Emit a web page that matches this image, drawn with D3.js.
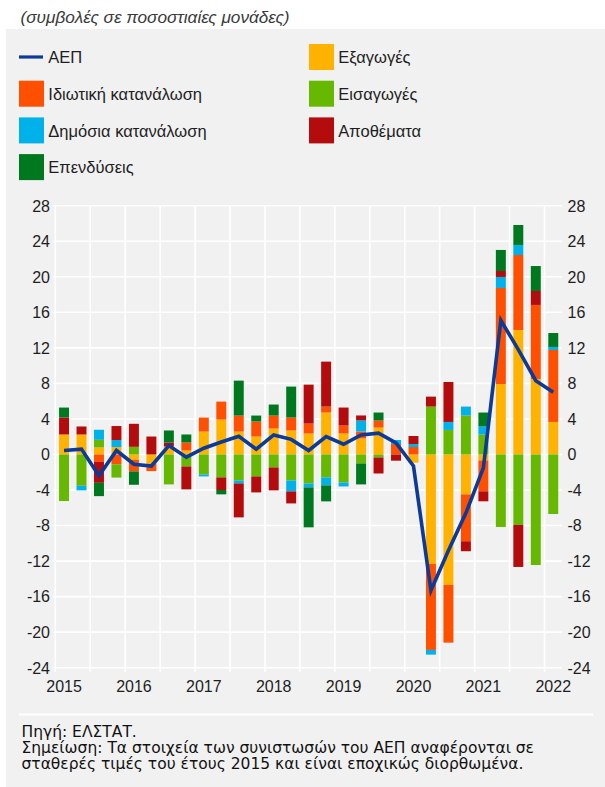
<!DOCTYPE html>
<html>
<head>
<meta charset="utf-8">
<title>Συμβολές στη μεταβολή του ΑΕΠ</title>
<style>
  body { margin: 0; background: #fff; }
  text { font-family: "Liberation Sans", Arial, sans-serif; fill: #1e1e1e; }
  .grid line { stroke: #fff; stroke-width: 1.6; }
  .tick-label { font-size: 16px; }
  .legend-label { font-size: 16.5px; }
  .note { font-family: "DejaVu Sans", sans-serif; font-size: 15.5px; fill: #111; }
</style>
</head>
<body>
<script src="https://cdn.jsdelivr.net/npm/d3@7/dist/d3.min.js"></script>
<script>

// quarters on the x axis
var quarters = ["2015Q1","2015Q2","2015Q3","2015Q4","2016Q1","2016Q2","2016Q3","2016Q4",
                "2017Q1","2017Q2","2017Q3","2017Q4","2018Q1","2018Q2","2018Q3","2018Q4",
                "2019Q1","2019Q2","2019Q3","2019Q4","2020Q1","2020Q2","2020Q3","2020Q4",
                "2021Q1","2021Q2","2021Q3","2021Q4","2022Q1"];
var yearLabels = ["2015","2016","2017","2018","2019","2020","2021","2022"];
var yTicks = [-24,-20,-16,-12,-8,-4,0,4,8,12,16,20,24,28];

// contributions in percentage points
var exportsC     = [2.25, 2.25, 0.79, 0.83, -0.6, -1.05, 0.9, 0.45, 2.58, 3.93, 2.58, 2.02, 2.92, 2.7, 2.36, 4.72, 2.36, 1.8, 3.03, 0, -0.92, -12.32, -14.69, -4.49, -0.67, 7.93, 14.01, 8.5, 3.66];
var privateC     = [0, 0, -0.83, -1.1, -1.31, -0.82, 0, 0.9, 1.57, 2.02, 1.8, 1.69, 1.46, 1.46, 1.12, 0.67, 0.9, 0.79, 0.79, 1.18, 0.84, -9.68, -6.49, -5.28, -3.48, 10.81, 8.44, 8.33, 8.1];
var importsC     = [-5.24, -3.52, 0.86, -1.5, 0.86, 0, -3.37, -1.35, -2.25, -2.58, -2.92, -2.47, -1.46, -2.92, -3.26, -2.58, -3.15, -1.01, -0.34, 0, 0, 5.39, 2.76, 4.38, 2.25, -8.16, -7.93, -12.44, -6.7];
var publicC      = [0, -0.52, 1.13, 0.79, 0, 0, 0, 0, -0.22, 0, -0.34, 0, 0, -1.24, -0.45, -0.9, -0.45, 1.24, 0, 0.45, 0.34, -0.53, 0.9, 1.01, 0.9, 1.24, 1.13, 0, 0.34];
var inventoriesC = [1.91, 0.9, -2.36, 1.58, 2.59, 2.02, 0.45, -2.58, 0, -1.42, -3.82, -1.8, -2.58, -1.35, 4.38, 5.06, 2.02, 0.56, -1.8, -0.7, 0.9, 1.12, 4.5, -1.12, -1.12, 0.67, -4.73, 1.57, 0];
var investmentC  = [1.12, 0, -1.5, 0, -1.5, 0, 1.35, 0.9, 0, -0.49, 3.93, 0.67, 1.24, 3.48, -4.49, -1.8, 0, -2.36, 0.9, 0, 0, 0, 0, 0, 1.57, 2.37, 2.25, 2.81, 1.57];
var gdp          = [0.45, 0.6, -2.4, 0.45, -1.1, -1.3, 1.0, -0.3, 0.7, 1.4, 2.05, 0.6, 2.2, 1.7, 0.45, 2.0, 1.15, 2.2, 2.4, 1.3, -1.3, -15.3, -10.8, -6.6, -1.5, 15.1, 11.8, 8.3, 7.0];

// series order used for stacking, and legend texts
var keys = ["exports", "private", "imports", "public", "inventories", "investment"];
var names = {
  gdp: "ΑΕΠ",
  private: "Ιδιωτική κατανάλωση",
  public: "Δημόσια κατανάλωση",
  investment: "Επενδύσεις",
  exports: "Εξαγωγές",
  imports: "Εισαγωγές",
  inventories: "Αποθέματα"
};
var colors = {
  gdp: "#0b3a98",
  private: "#ff4f00",
  public: "#00b1ea",
  investment: "#00781f",
  exports: "#ffb300",
  imports: "#66b800",
  inventories: "#b40c0c"
};
var legendCol1 = ["gdp", "private", "public", "investment"];
var legendCol2 = ["exports", "imports", "inventories"];

// build rows for d3.stack
var rows = quarters.map(function (q, i) {
  return {
    q: q,
    exports: exportsC[i],
    private: privateC[i],
    imports: importsC[i],
    public: publicC[i],
    inventories: inventoriesC[i],
    investment: investmentC[i],
    gdp: gdp[i]
  };
});

var W = 605, H = 787;
var plot = {left: 55.3, right: 562, top: 205.7, bottom: 667.7};

var svg = d3.select("body").append("svg")
    .attr("width", W)
    .attr("height", H);

// grey panel
svg.append("rect")
    .attr("x", 6).attr("y", 29)
    .attr("width", W - 6).attr("height", H - 29)
    .attr("fill", "#f1f1f1");

// subtitle
svg.append("text")
    .attr("x", 20.5).attr("y", 23)
    .style("font-size", "17.2px")
    .style("font-style", "italic")
    .style("fill", "#3a3a3a")
    .text("(συμβολές σε ποσοστιαίες μονάδες)");

// legend
var legend = svg.append("g");
function legendItem(key, x, y) {
  var g = legend.append("g").attr("transform", "translate(" + x + "," + y + ")");
  if (key === "gdp") {
    g.append("line")
      .attr("x1", 0).attr("x2", 24)
      .attr("y1", 0).attr("y2", 0)
      .attr("stroke", colors.gdp)
      .attr("stroke-width", 3.2);
  } else {
    g.append("rect")
      .attr("x", 0).attr("y", -13)
      .attr("width", 25).attr("height", 26)
      .attr("fill", colors[key]);
  }
  g.append("text")
    .attr("class", "legend-label")
    .attr("x", 29.3).attr("y", 6.3)
    .text(names[key]);
}
legendCol1.forEach(function (k, i) { legendItem(k, 19, 57 + i * 36.7); });
legendCol2.forEach(function (k, i) { legendItem(k, 309, 57 + i * 36.7); });

// scales
var x = d3.scaleBand()
    .domain(quarters)
    .range([plot.left, plot.right])
    .paddingInner(0.43)
    .paddingOuter(0.215);

var y = d3.scaleLinear()
    .domain([-24, 28])
    .range([plot.bottom, plot.top]);

// gridlines
var grid = svg.append("g").attr("class", "grid");
var half = (x.step() - x.bandwidth()) / 2;
grid.selectAll(".hgrid")
    .data(yTicks)
    .enter().append("line")
    .attr("x1", plot.left - 2).attr("x2", plot.right)
    .attr("y1", function (d) { return y(d); })
    .attr("y2", function (d) { return y(d); });
grid.selectAll(".vgrid")
    .data(quarters.filter(function (q, i) { return i % 2 === 0; }))
    .enter().append("line")
    .attr("x1", function (d) { return x(d) - half; })
    .attr("x2", function (d) { return x(d) - half; })
    .attr("y1", plot.top)
    .attr("y2", plot.bottom + 4);

// stacked bars
var series = d3.stack()
    .keys(keys)
    .offset(d3.stackOffsetDiverging)(rows);

svg.append("g")
  .selectAll("g")
  .data(series)
  .enter().append("g")
    .attr("fill", function (d) { return colors[d.key]; })
  .selectAll("rect")
  .data(function (d) { return d; })
  .enter().append("rect")
    .attr("x", function (d) { return x(d.data.q); })
    .attr("width", x.bandwidth())
    .attr("y", function (d) { return y(Math.max(d[0], d[1])); })
    .attr("height", function (d) { return Math.abs(y(d[0]) - y(d[1])); });

// GDP line
var line = d3.line()
    .x(function (d) { return x(d.q) + x.bandwidth() / 2; })
    .y(function (d) { return y(d.gdp); });

svg.append("path")
    .datum(rows)
    .attr("fill", "none")
    .attr("stroke", colors.gdp)
    .attr("stroke-width", 3.6)
    .attr("d", line);

// y tick labels, both sides
svg.append("g").selectAll("text")
    .data(yTicks)
    .enter().append("text")
    .attr("class", "tick-label")
    .attr("text-anchor", "end")
    .attr("x", 50)
    .attr("y", function (d) { return y(d) + 5.8; })
    .text(function (d) { return d; });

svg.append("g").selectAll("text")
    .data(yTicks)
    .enter().append("text")
    .attr("class", "tick-label")
    .attr("text-anchor", "start")
    .attr("x", 567.5)
    .attr("y", function (d) { return y(d) + 5.8; })
    .text(function (d) { return d; });

// year labels under the first quarter of each year
svg.append("g").selectAll("text")
    .data(yearLabels)
    .enter().append("text")
    .attr("class", "tick-label")
    .attr("text-anchor", "middle")
    .attr("x", function (d) { return x(d + "Q1") + x.bandwidth() / 2; })
    .attr("y", 692)
    .text(function (d) { return d; });

// separator and notes
svg.append("line")
    .attr("x1", 19).attr("x2", 593)
    .attr("y1", 714.5).attr("y2", 714.5)
    .attr("stroke", "#fff")
    .attr("stroke-width", 2);

var notes = ["Πηγή: ΕΛΣΤΑΤ.",
             "Σημείωση: Τα στοιχεία των συνιστωσών του ΑΕΠ αναφέρονται σε",
             "σταθερές τιμές του έτους 2015 και είναι εποχικώς διορθωμένα."];
svg.append("g").selectAll("text")
    .data(notes)
    .enter().append("text")
    .attr("class", "note")
    .attr("x", 21.5)
    .attr("y", function (d, i) { return 737 + i * 16; })
    .text(function (d) { return d; });

</script>
</body>
</html>
